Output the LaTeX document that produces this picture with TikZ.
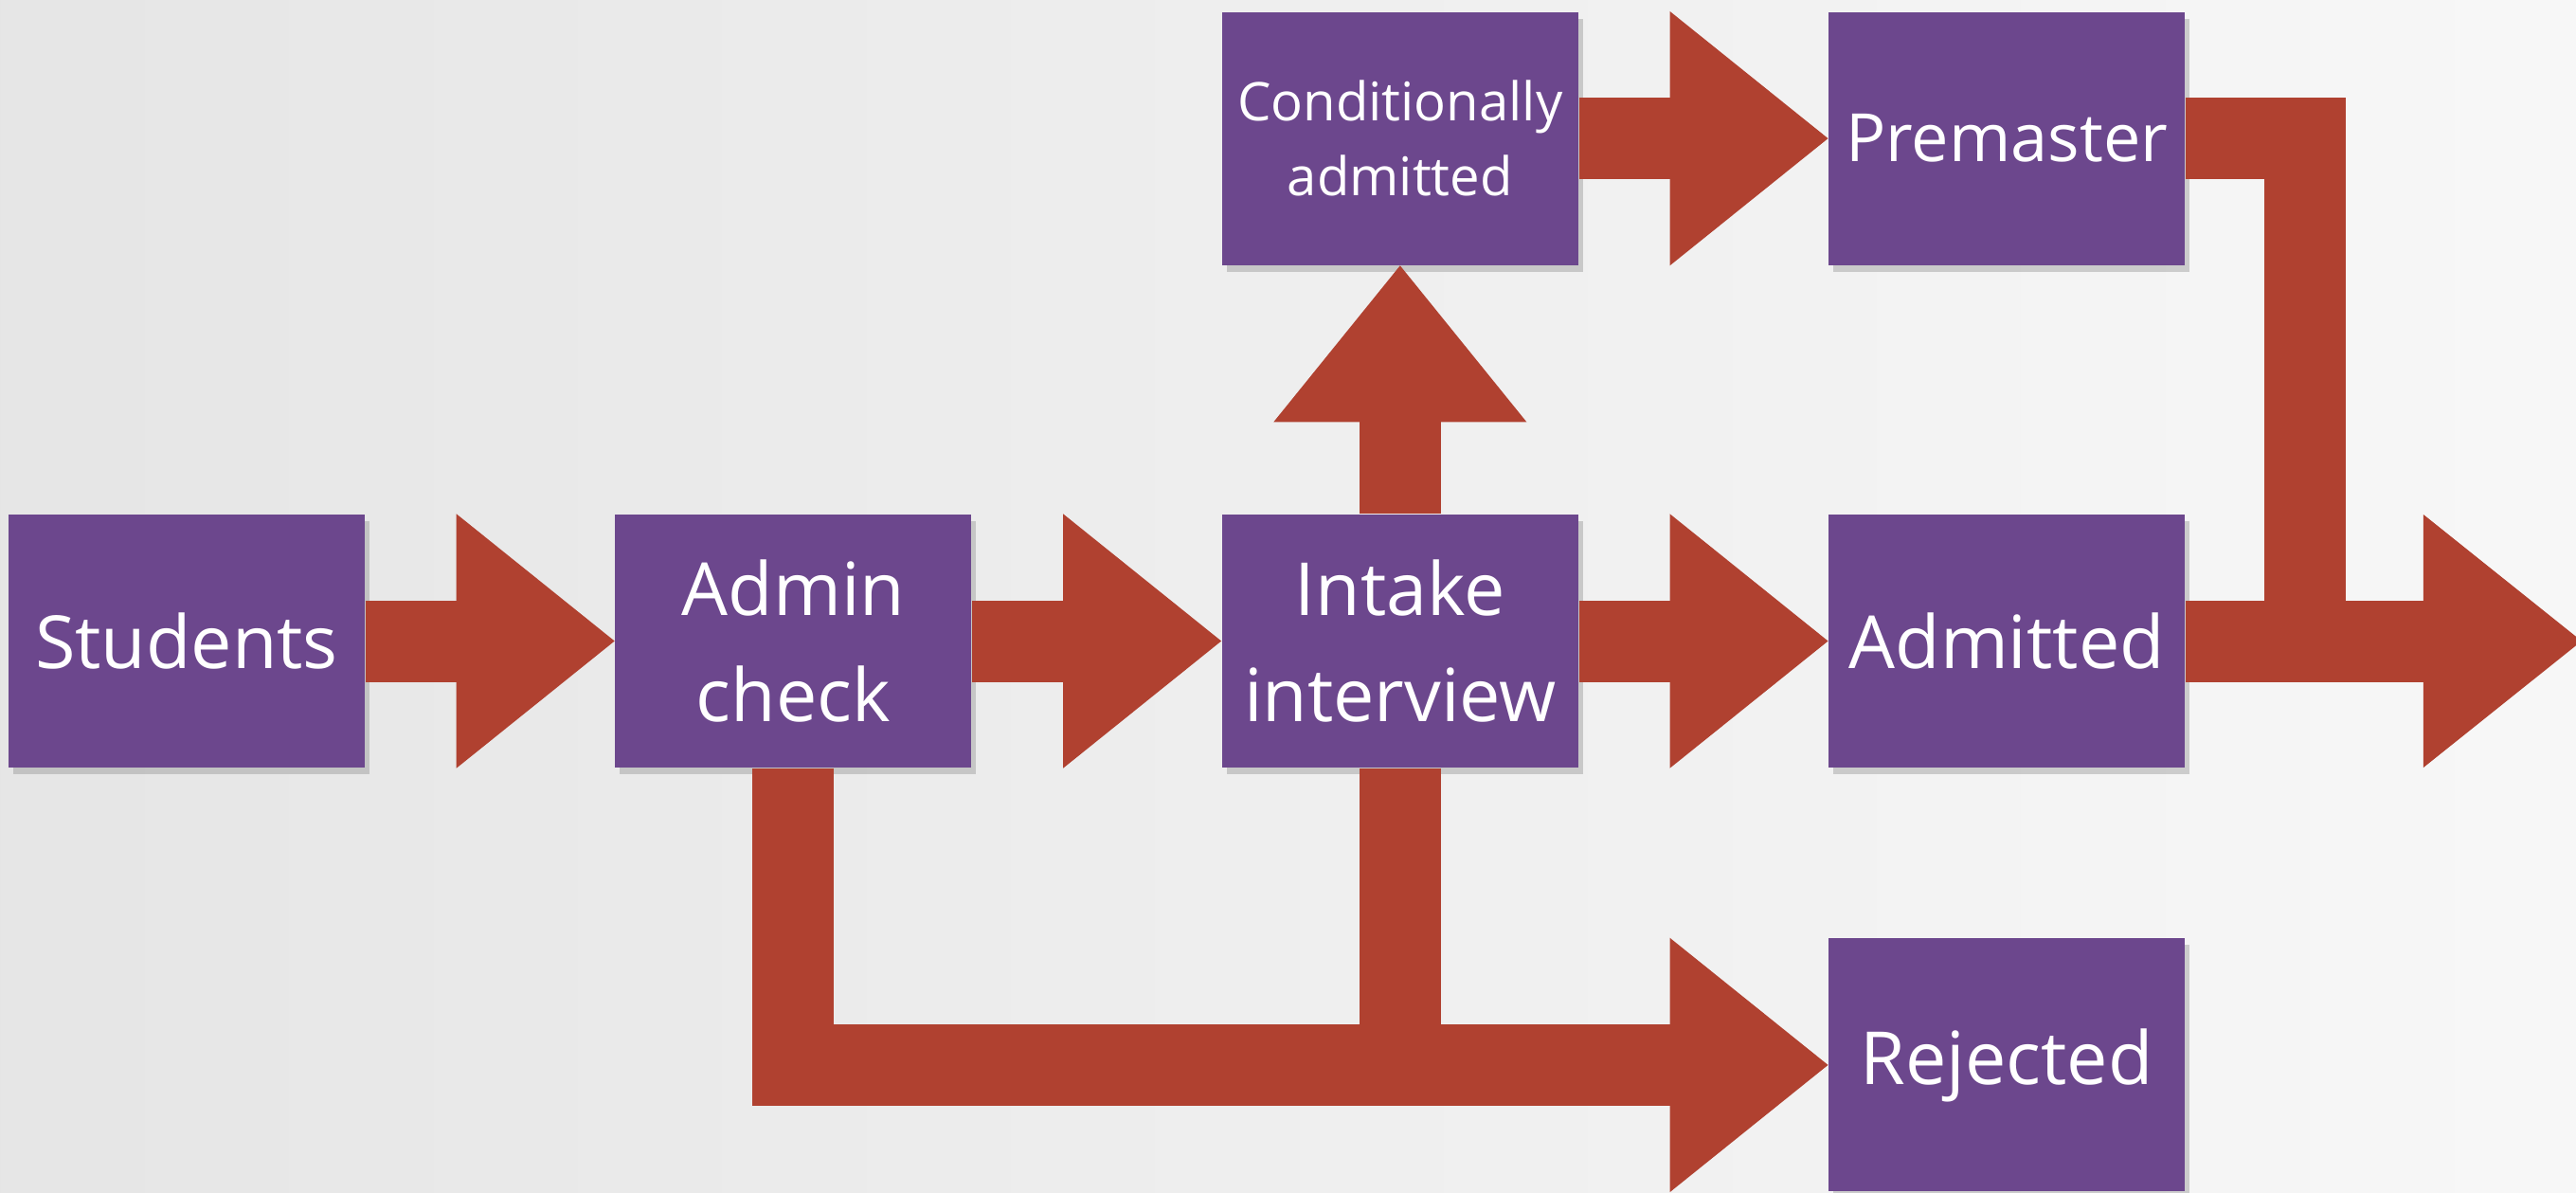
\documentclass[tikz,border=0pt]{standalone}
\usepackage{fontspec}
\setmainfont{Open Sans}
\usepackage{tikz}
\usetikzlibrary{positioning,calc,shadows}
\definecolor{stagepurple}{RGB}{108,71,141}
\definecolor{flowred}{RGB}{176,65,48}
\tikzset{
  stagebox/.style={
    rectangle,
    fill=stagepurple,
    text=white,
    align=center,
    minimum width=37.6mm,
    minimum height=26.7mm,
    inner sep=2pt,
    font=\fontsize{22}{32}\selectfont,
    drop shadow={shadow xshift=0.5mm,shadow yshift=-0.7mm,opacity=0.35}
  },
  flowshaft/.style={draw=flowred,line width=8.6mm,line cap=butt,line join=miter},
  flowhead/.style={fill=flowred}
}

\begin{document}
\begin{tikzpicture}[node distance=26.2mm and 26.3mm]
  \useasboundingbox (0,0) rectangle (271.9mm,-125.8mm);
  \fill[left color=black!10,right color=black!3] (0,0) rectangle (271.9mm,-125.8mm);
  % stages
  \node[stagebox] (students) at (19.7mm,-67.65mm) {Students};
  \node[stagebox,right=of students] (admin) {Admin\\check};
  \node[stagebox,right=of admin] (intake) {Intake\\interview};
  \node[stagebox,right=of intake] (admitted) {Admitted};
  \node[stagebox,above=of intake,font=\fontsize{16}{22.5}\selectfont] (cond)
    {Conditionally\\admitted};
  \node[stagebox,right=of cond,font=\fontsize{20}{28}\selectfont] (premaster) {Premaster};
  \node[stagebox,below=17.9mm of admitted] (rejected) {Rejected};
  \coordinate[right=41.8mm of admitted.east] (exit);
  \coordinate[right=12.6mm of admitted.east] (merge);
  % shafts
  \draw[flowshaft] (students.east) -- ([xshift=-16mm]admin.west);
  \draw[flowshaft] (admin.east) -- ([xshift=-16mm]intake.west);
  \draw[flowshaft] (intake.east) -- ([xshift=-16mm]admitted.west);
  \draw[flowshaft] (cond.east) -- ([xshift=-16mm]premaster.west);
  \draw[flowshaft] (intake.north) -- ([yshift=-16mm]cond.south);
  \draw[flowshaft] (admitted.east) -- ([xshift=-16mm]exit);
  \draw[flowshaft] (premaster.east) -| (merge);
  \draw[flowshaft] (admin.south) |- ([xshift=-16mm]rejected.west);
  \draw[flowshaft] (intake.south) -- (intake.south |- rejected.west);
  % heads
  \fill[flowhead] ([xshift=-16.7mm]admin.north west) -- (admin.west) -- ([xshift=-16.7mm]admin.south west) -- cycle;
  \fill[flowhead] ([xshift=-16.7mm]intake.north west) -- (intake.west) -- ([xshift=-16.7mm]intake.south west) -- cycle;
  \fill[flowhead] ([xshift=-16.7mm]admitted.north west) -- (admitted.west) -- ([xshift=-16.7mm]admitted.south west) -- cycle;
  \fill[flowhead] ([xshift=-16.7mm]premaster.north west) -- (premaster.west) -- ([xshift=-16.7mm]premaster.south west) -- cycle;
  \fill[flowhead] ([xshift=-16.7mm]rejected.north west) -- (rejected.west) -- ([xshift=-16.7mm]rejected.south west) -- cycle;
  \fill[flowhead] ($(exit)+(-16.7mm,13.35mm)$) -- (exit) -- ($(exit)+(-16.7mm,-13.35mm)$) -- cycle;
  \fill[flowhead] ($(cond.south)+(-13.35mm,-16.5mm)$) -- (cond.south) -- ($(cond.south)+(13.35mm,-16.5mm)$) -- cycle;
\end{tikzpicture}
\end{document}
